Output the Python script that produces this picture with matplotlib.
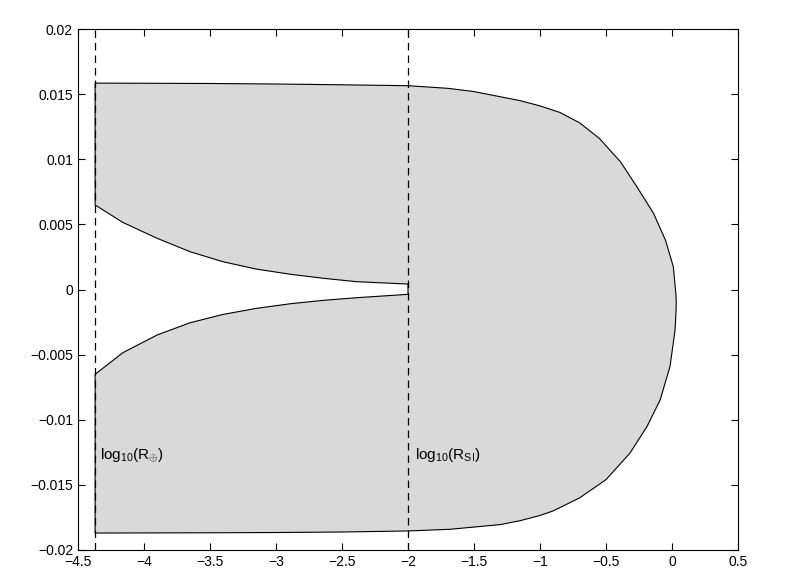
import matplotlib
matplotlib.use("Agg")
import matplotlib.pyplot as plt

plt.rcParams["font.family"] = ["Liberation Sans", "DejaVu Sans"]
plt.rcParams["mathtext.fontset"] = "custom"
plt.rcParams["mathtext.rm"] = "Liberation Sans"
plt.rcParams["mathtext.it"] = "Liberation Sans:italic"

# reference lines (log10 of radii)
x_earth = -4.37
x_si = -2.0

# outer boundary, upper half (x, y*1e-3), left to the tip
upper_x = [-4.37, -3.5, -3.0, -2.5, -2.0, -1.7, -1.5, -1.3, -1.15, -1.0, -0.85, -0.70,
           -0.55, -0.39, -0.27, -0.14, -0.05, 0.01, 0.03, 0.032]
upper_y = [15.85, 15.82, 15.78, 15.72, 15.65, 15.45, 15.2, 14.80, 14.5, 14.1, 13.6, 12.8,
           11.6, 9.8, 7.95, 5.85, 3.80, 1.75, -0.42, -1.0]

# outer boundary, lower half, tip back to the left
lower_x = [0.03, 0.023, -0.015, -0.09, -0.19, -0.32, -0.50, -0.70, -0.90, -1.0, -1.15,
           -1.3, -1.68, -2.0, -2.5, -3.0, -3.5, -4.37]
lower_y = [-1.8, -3.11, -5.9, -8.48, -10.53, -12.58, -14.6, -16.0, -17.0, -17.35, -17.75,
           -18.05, -18.41, -18.54, -18.62, -18.66, -18.68, -18.70]

# inner (excluded) gap, lower edge left to right, upper edge right to left
gap_lo_x = [-4.37, -4.16, -3.90, -3.65, -3.40, -3.15, -2.89, -2.64, -2.39, -2.0]
gap_lo_y = [-6.51, -4.85, -3.49, -2.55, -1.91, -1.45, -1.09, -0.83, -0.63, -0.37]
gap_hi_x = [-2.0, -2.39, -2.64, -2.89, -3.15, -3.40, -3.65, -3.90, -4.16, -4.37]
gap_hi_y = [0.42, 0.60, 0.86, 1.17, 1.57, 2.13, 2.90, 3.93, 5.15, 6.49]

xs = upper_x + lower_x + gap_lo_x + gap_hi_x
ys = [v * 1e-3 for v in upper_y + lower_y + gap_lo_y + gap_hi_y]

fig = plt.figure(figsize=(7.94, 5.81), dpi=100)
ax = fig.add_axes([0.0982, 0.0534, 0.8313, 0.8966])

ax.fill(xs, ys, facecolor="#d9d9d9", edgecolor="black", linewidth=0.8,
        joinstyle="round", zorder=1)

for xv in (x_earth, x_si):
    ax.axvline(xv, color="black", linestyle=(0, (6, 4)), linewidth=0.9, zorder=2)

ax.text(x_earth + 0.04, -0.0127, r"log$_{10}$(R$_{\oplus}$)", fontsize=11, va="center", ha="left")
ax.text(x_si + 0.05, -0.0127, r"log$_{10}$(R$_{\mathrm{SI}}$)", fontsize=11, va="center", ha="left")

ax.set_xlim(-4.5, 0.5)
ax.set_ylim(-0.02, 0.02)
ax.set_xticks([-4.5, -4, -3.5, -3, -2.5, -2, -1.5, -1, -0.5, 0, 0.5])
ax.set_xticklabels(["\u22124.5", "\u22124", "\u22123.5", "\u22123", "\u22122.5", "\u22122",
                    "\u22121.5", "\u22121", "\u22120.5", "0", "0.5"])
ax.set_yticks([-0.02, -0.015, -0.01, -0.005, 0, 0.005, 0.01, 0.015, 0.02])
ax.set_yticklabels(["\u22120.02", "\u22120.015", "\u22120.01", "\u22120.005", "0",
                    "0.005", "0.01", "0.015", "0.02"])
ax.tick_params(direction="in", length=5, width=0.8, top=True, right=True, labelsize=10)
for s in ax.spines.values():
    s.set_linewidth(0.8)

fig.savefig("out.png", dpi=100)
